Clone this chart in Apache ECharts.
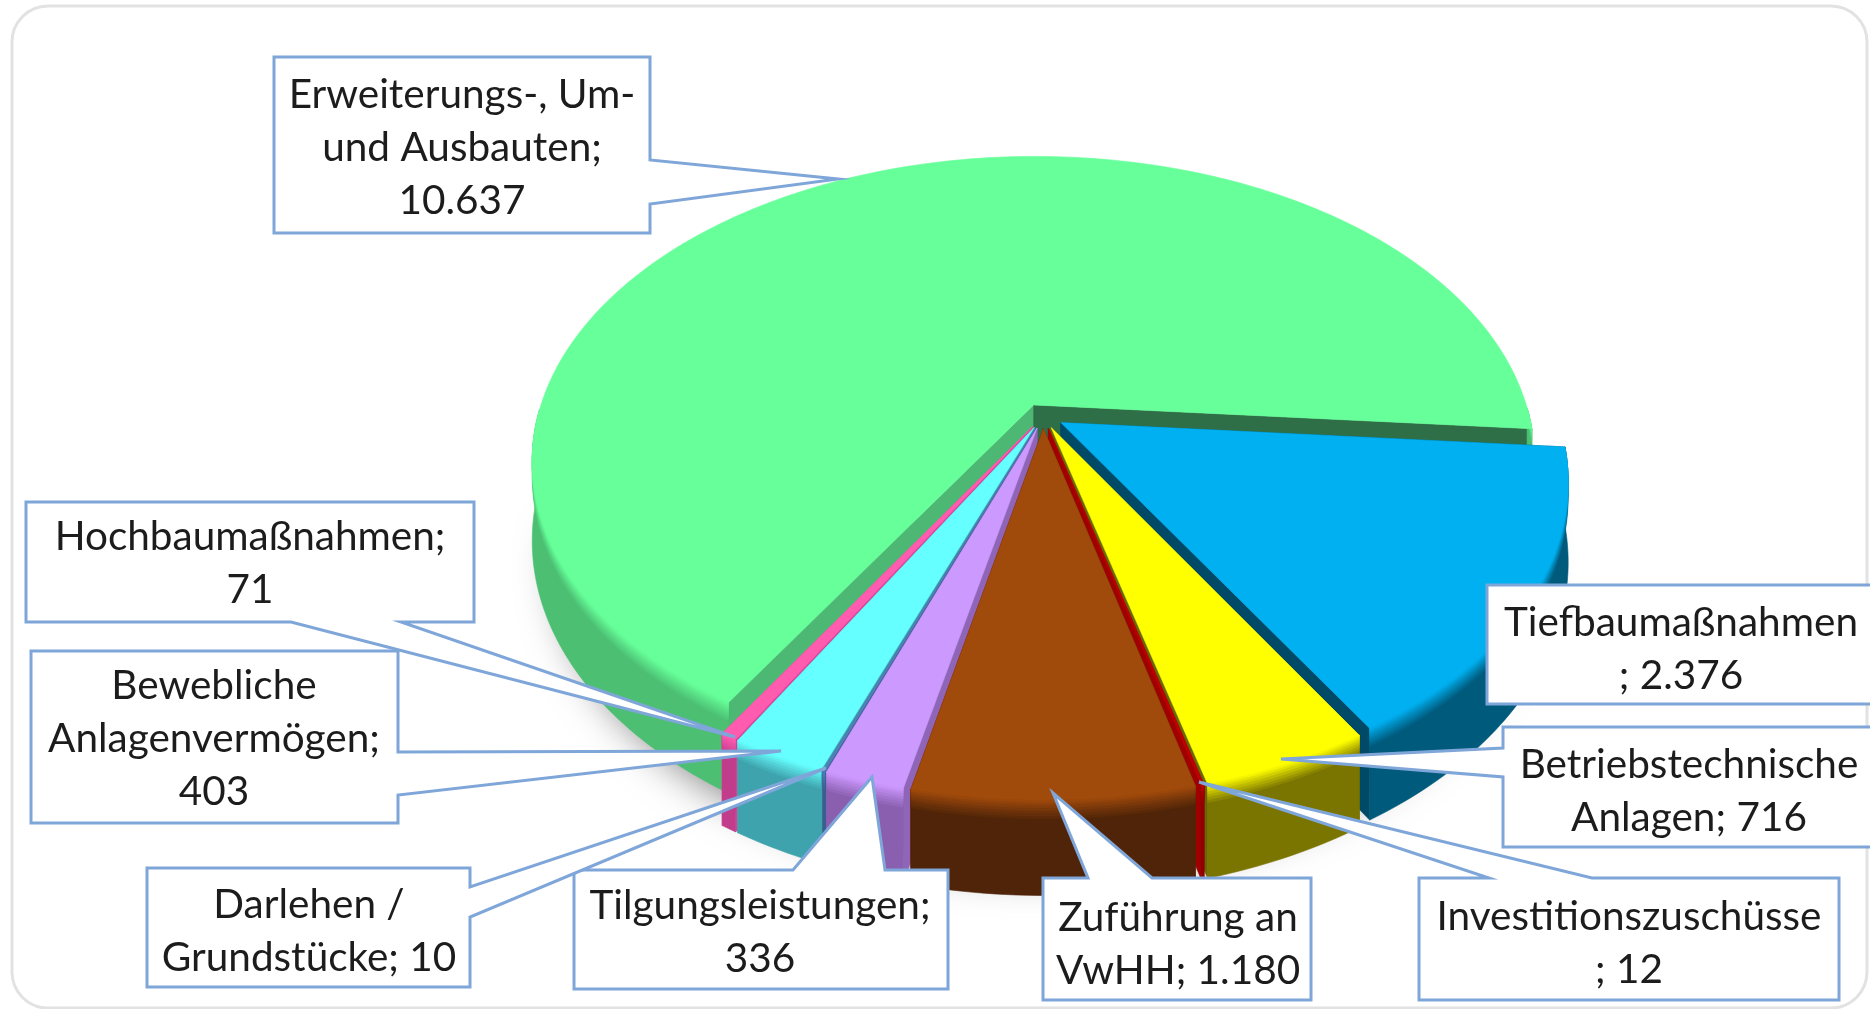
<!DOCTYPE html>
<html><head><meta charset="utf-8">
<style>html,body{margin:0;padding:0;background:#fff}#c{width:1870px;height:1009px}</style>
<script src="https://cdn.jsdelivr.net/npm/echarts@6/dist/echarts.min.js"></script>
</head><body><div id="c"></div>
<script>
const categories = ['Erweiterungs-, Um- und Ausbauten','Tiefbaumaßnahmen','Betriebstechnische Anlagen','Investitionszuschüsse','Zuführung an VwHH','Tilgungsleistungen','Darlehen / Grundstücke','Bewegliche Anlagenvermögen','Hochbaumaßnahmen'];
const values = [10637,2376,716,12,1180,336,10,403,71];
const labelTexts = ['Erweiterungs-, Um-\nund Ausbauten;\n10.637','Tiefbaumaßnahmen\n; 2.376','Betriebstechnische\nAnlagen; 716','Investitionszuschüsse\n; 12','Zuführung an\nVwHH; 1.180','Tilgungsleistungen;\n336','Darlehen /\nGrundstücke; 10','Bewebliche\nAnlagenvermögen;\n403','Hochbaumaßnahmen;\n71'];
const topColors = ['#66FF99','#00B0F0','#FFFF00','#C00000','#A04A0C','#CC99FF','#4F81BD','#66FFFF','#FF5CB0'];
const wallColors = ['#4CBF73','#005A7C','#7A7400','#8E0000','#4F2408','#8A5FB0','#3A6090','#3FA3AD','#C23C8C'];
const startFace = ['#4DB874','#005A7C','#6A6600','#A00000','#5A2A08','#8F65B8','#3A6090','#3FA3AD','#E0409A'];
const endFace = ['#2F6F48','#004A68','#6A6600','#A00000','#7A0000','#8F65B8','#3A6090','#3FA3AD','#E0409A'];

// pie projection
const CX=1043, CY=416, RX=496, RY=298, K=0.184, DEPTH=77, EXPLODE=0.042, START=121.3;
const total = values.reduce((a,b)=>a+b,0);
const slices=[]; let cum=0;
values.forEach((v,i)=>{
  const a0=echarts.number.linearMap(cum,[0,total],[START,START+360]);
  cum+=v;
  const a1=echarts.number.linearMap(cum,[0,total],[START,START+360]);
  slices.push({i,a0,a1,mid:(a0+a1)/2});
});
const rad=d=>d*Math.PI/180;
const order=slices.slice().sort((p,q)=>Math.sin(rad(p.mid))-Math.sin(rad(q.mid))).map(s=>s.i);

function proj(u,v,down){
  const s=1/(1-K*v);
  return [CX+RX*u*s, CY+RY*v*s+(down?DEPTH*s:0)];
}
function mix(a,b,t){
  const p=c=>[1,3,5].map(j=>parseInt(c.substr(j,2),16));
  const A=p(a),B=p(b);
  return 'rgb('+A.map((x,j)=>Math.round(x+(B[j]-x)*t)).join(',')+')';
}
const BEVEL=[[0.2,0.12],[0.17,0.25],[0.14,0.38],[0.11,0.52],[0.08,0.66],[0.05,0.8],[0.025,0.92]];
function renderSlice(params){
  const idx=order[params.dataIndex], s=slices[idx];
  const ex=EXPLODE*Math.cos(rad(s.mid)), ey=EXPLODE*Math.sin(rad(s.mid));
  const P=(d,down)=>proj(ex+Math.cos(rad(d)),ey+Math.sin(rad(d)),down);
  const apex=down=>proj(ex,ey,down);
  const steps=Math.max(2,Math.ceil((s.a1-s.a0)/1));
  const deg=[];for(let j=0;j<=steps;j++)deg.push(s.a0+(s.a1-s.a0)*j/steps);
  const kids=[];
  const poly=(pts,fill)=>kids.push({type:'polygon',shape:{points:pts},style:{fill:fill,stroke:fill,lineWidth:0.6}});
  poly([apex(false),P(s.a0,false),P(s.a0,true),apex(true)],startFace[idx]);
  poly([apex(false),P(s.a1,false),P(s.a1,true),apex(true)],endFace[idx]);
  let run=[];
  const flush=()=>{
    if(run.length>1){
      const top=run.map(d=>P(d,false)), bot=run.map(d=>P(d,true));
      poly(top.concat(bot.slice().reverse()),wallColors[idx]);
      BEVEL.forEach(b=>{
        const low=top.map((p,j)=>[p[0],p[1]+(bot[j][1]-p[1])*b[0]]).reverse();
        const c=mix(wallColors[idx],topColors[idx],b[1]);
        kids.push({type:'polygon',shape:{points:top.concat(low)},style:{fill:c,stroke:c,lineWidth:0.3}});
      });
    }
    run=[];
  };
  deg.forEach(d=>{ if(Math.sin(rad(d))>=0) run.push(d); else flush(); });
  flush();
  const top=[apex(false)].concat(deg.map(d=>P(d,false)));
  poly(top,topColors[idx]);
  return {type:'group',children:kids};
}
function renderShadow(){
  const pts=[];
  for(let d=5;d<=175;d+=2){const p=proj(Math.cos(rad(d))*0.96,Math.sin(rad(d))*0.96,true);pts.push(p);}
  return {type:'polygon',shape:{points:pts},style:{fill:'#888',shadowBlur:40,shadowColor:'rgba(0,0,0,0.5)',shadowOffsetY:14}};
}

const callouts=[
 {box:[274,57,650,233],side:'r',base:[160,204],tip:[838,179],text:[462,148]},
 {box:[1487,585,1880,704],side:null,text:[1681,649]},
 {box:[1503,727,1880,847],side:'l',base:[748,777],tip:[1281,759],text:[1689,791]},
 {box:[1419,878,1839,1000],side:'t',base:[1489,1592],tip:[1199,782],text:[1629,943]},
 {box:[1043,878,1311,1000],side:'t',base:[1088,1152],tip:[1053,793],text:[1178,944]},
 {box:[574,870,948,989],side:'t',base:[793,885],tip:[872,777],text:[760,932]},
 {box:[147,868,470,987],side:'r',base:[887,917],tip:[826,768],text:[309,931]},
 {box:[31,651,398,823],side:'r',base:[752,795],tip:[781,751],text:[214,739]},
 {box:[26,502,474,622],side:'b',base:[291,401],tip:[735,737],text:[250,563]}
];
const FONT='Lato, "Open Sans", sans-serif';
function renderCallout(params){
  const c=callouts[params.dataIndex], [x0,y0,x1,y1]=c.box;
  let pts;
  if(c.side==='r') pts=[[x0,y0],[x1,y0],[x1,c.base[0]],c.tip,[x1,c.base[1]],[x1,y1],[x0,y1]];
  else if(c.side==='l') pts=[[x0,y0],[x1,y0],[x1,y1],[x0,y1],[x0,c.base[1]],c.tip,[x0,c.base[0]]];
  else if(c.side==='t') pts=[[x0,y0],[c.base[0],y0],c.tip,[c.base[1],y0],[x1,y0],[x1,y1],[x0,y1]];
  else if(c.side==='b') pts=[[x0,y0],[x1,y0],[x1,y1],[c.base[1],y1],c.tip,[c.base[0],y1],[x0,y1]];
  else pts=[[x0,y0],[x1,y0],[x1,y1],[x0,y1]];
  return {type:'group',children:[
    {type:'polygon',shape:{points:pts},style:{fill:'#fff',stroke:'#7FA6D9',lineWidth:3,lineJoin:'miter'}},
    {type:'text',x:c.text[0],y:c.text[1],style:{text:labelTexts[params.dataIndex],x:0,y:0,align:'center',verticalAlign:'middle',font:'400 40.5px '+FONT,lineHeight:53,fill:'#1c1c1c'}}
  ]};
}

const chart=echarts.init(document.getElementById('c'),null,{renderer:'canvas'});
chart.setOption({
  animation:false,
  backgroundColor:'#fff',
  graphic:[{type:'rect',z:-10,shape:{x:12,y:6,width:1855,height:1002,r:36},style:{fill:'#fff',stroke:'#E2E2E2',lineWidth:3}}],
  series:[
   {type:'custom',coordinateSystem:'none',z:1,silent:true,data:[0],renderItem:renderShadow},
   {type:'custom',coordinateSystem:'none',z:2,silent:true,data:order.map(i=>values[i]),renderItem:renderSlice},
   {type:'custom',coordinateSystem:'none',z:3,silent:true,data:categories.map((n,i)=>({name:n,value:values[i]})),renderItem:renderCallout}
  ]
});
</script></body></html>
